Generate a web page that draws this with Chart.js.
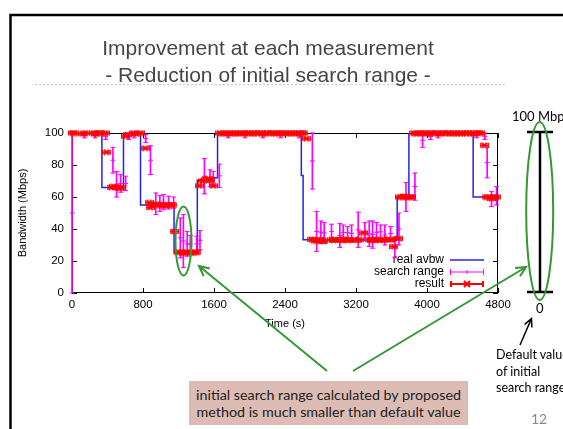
<!DOCTYPE html>
<html>
<head>
<meta charset="utf-8">
<script src="https://cdn.jsdelivr.net/npm/chart.js@4.4.1/dist/chart.umd.min.js"></script>
<style>
  html, body { margin: 0; padding: 0; background: #fff; }
  #slide { position: relative; width: 563px; height: 429px; overflow: hidden; }
  #slide canvas { position: absolute; left: 0; top: 0; }
  .txt { position: absolute; white-space: nowrap; }
  #title { left: 0; top: 34px; width: 536px; text-align: center; font: 21px/27px 'Liberation Sans', Arial, sans-serif; color: #454545; }
  #note { left: 189px; top: 381px; width: 279px; height: 44px; background: #dcbcb4; text-align: center;
          font: 14.3px/17px Lato, sans-serif; color: #222; box-sizing: border-box; padding-top: 4.5px; }
  #deflt { left: 496px; top: 347px; font: 12.5px/16.5px Lato, sans-serif; color: #000; }
  #mbps { left: 512px; top: 108px; font: 13px/16px Lato, sans-serif; color: #000; }
  #zero { left: 536px; top: 300px; font: 13px/16px Lato, sans-serif; color: #000; }
  #page { left: 531px; top: 411px; font: 14px/16px Lato, sans-serif; color: #888; }
</style>
</head>
<body>
<div id="slide">
  <canvas id="myChart" width="563" height="429"></canvas>
  <div class="txt" id="title">Improvement at each measurement<br>- Reduction of initial search range -</div>
  <div class="txt" id="mbps">100 Mbps</div>
  <div class="txt" id="zero">0</div>
  <div class="txt" id="deflt">Default value<br>of initial<br>search range</div>
  <div class="txt" id="note">initial search range calculated by proposed<br>method is much smaller than default value</div>
  <div class="txt" id="page">12</div>
</div>
<script>
// real available bandwidth (step line), value changes at each time
const avbwTime = [0, 337, 580, 772, 1150, 1412, 1555, 1640, 2584, 2604, 3664, 3796, 4520, 4800];
const avbwMbps = [100, 66, 100, 55, 25, 70.5, 72, 100, 73.5, 33.3, 60, 100, 60, 60];

// search range (vertical error bars)
const rangeTime = [0, 140, 260, 380, 461, 502, 548, 604, 638, 700, 830, 884,
  944, 990, 1031, 1088, 1145, 1220, 1255, 1298, 1333, 1405, 1442, 1492, 1555, 1592, 1660,
  1760, 1950, 2150, 2350, 2560, 2708, 2756, 2804, 2842, 2924, 3018, 3056, 3105, 3150,
  3225, 3300, 3349, 3387, 3431, 3476, 3525, 3589, 3638, 3684, 3763, 3864, 3950, 4040,
  4125, 4558, 4652, 4678, 4727, 4783];
const rangeLow = [0, 97, 97, 96, 75, 60, 63, 64, 96, 97, 94, 74,
  49, 51, 52, 52.5, 53, 22, 16, 23, 25, 26, 27, 62, 66.5, 67, 66,
  97, 97, 97, 97, 97, 65, 26, 31, 31, 34, 28.5, 33, 34, 32,
  28.5, 33, 29, 28, 32, 34, 30, 33, 22, 30, 51, 58, 91, 96,
  97, 97, 96, 72, 54, 55];
const rangeHigh = [100, 100, 100, 100, 91, 76, 74, 73, 100, 100, 99, 92,
  62.5, 61, 61.5, 60.5, 60, 47, 49, 38.5, 36, 35.5, 39, 84, 77, 76, 80.5,
  100, 100, 100, 100, 100, 100, 51, 45, 44, 43, 43.5, 42.5, 41.5, 42.5,
  50.5, 44, 45, 45, 44, 42.5, 42.5, 41.5, 35, 50, 69, 75, 100, 100,
  100, 100, 100, 91, 63.5, 66.5];

// measured result (red points)
const resultTime = [10, 30, 115, 150, 245, 270, 295, 320, 375, 390,
  440, 470, 500, 530, 560, 605, 627, 690, 730, 767, 824,
  869, 880, 915, 955, 993, 1031, 1069, 1107, 1137, 1150,
  1200, 1230, 1260, 1290, 1320, 1350, 1380, 1408,
  1435, 1470, 1500, 1537, 1562, 1592,
  1660, 1693, 1726, 1760, 1792, 1826, 1858, 1892, 1925, 1958, 1990, 2024, 2057, 2090,
  2122, 2156, 2190, 2222, 2255, 2288, 2322, 2354, 2388, 2420, 2454, 2486, 2520, 2552, 2586, 2612,
  2640, 2696, 2724, 2748, 2773, 2786, 2808, 2839, 2924, 2947, 2962, 3018, 3042, 3066, 3091, 3111,
  3186, 3211, 3242, 3280, 3355, 3380, 3404, 3429, 3468, 3499, 3523, 3570, 3600, 3627, 3675,
  3695, 3722, 3750, 3778, 3805, 3826,
  3845, 3878, 3912, 3945, 3978, 4012, 4045, 4078, 4112, 4145, 4178, 4212, 4245, 4278,
  4312, 4345, 4378, 4412, 4445, 4478, 4512, 4545, 4578, 4600,
  4644, 4665, 4695, 4725, 4755, 4785];
const resultMbps = [100, 100, 99.5, 100, 100, 99.5, 100, 100, 100, 88,
  66, 66.5, 66, 65.5, 66, 98, 99, 100, 99.5, 100, 90.5,
  56.5, 53.5, 55, 55.5, 55, 54.5, 55, 55, 55, 38.5,
  25.5, 25.5, 25, 25.5, 25.5, 25, 25.5, 25.5,
  67, 70, 71, 71.5, 70.5, 67,
  100, 99.5, 100, 100, 99.5, 100, 100, 99.5, 100, 100, 100, 99.5, 100, 100,
  100, 99.5, 100, 100, 100, 99.5, 100, 100, 100, 99.5, 100, 100, 99.5, 100, 100, 100,
  96.5, 33.5, 33.3, 32.5, 33, 32.9, 33.3, 32.3, 33.3, 33, 33.3, 33.3, 33, 33.3, 33.3, 33,
  33.3, 33, 33.3, 37.5, 33.3, 33, 33.3, 33.3, 33, 33.3, 33.3, 33.3, 33.3, 29, 34,
  60, 60, 60.5, 60, 60, 60,
  100, 99.5, 100, 100, 100, 99.5, 100, 100, 100, 99.5, 100, 100, 100, 99.5,
  100, 100, 99.5, 100, 100, 100, 99.5, 100, 100, 100,
  92.3, 60, 60, 59, 60, 60];

const xTicks = [0, 800, 1600, 2400, 3200, 4000, 4800];
const yTicks = [0, 20, 40, 60, 80, 100];

const BLUE = '#2323ee';
const MAGENTA = '#ff00ff';
const RED = '#ff0000';
const GREEN = '#349834';
const FONT = "'Liberation Sans', Arial, sans-serif";

// small canvases used as point styles / legend samples
function makeIcon(w, h, paint) {
  const c = document.createElement('canvas');
  c.width = w; c.height = h;
  paint(c.getContext('2d'));
  return c;
}
function seg(g, x1, y1, x2, y2) { g.beginPath(); g.moveTo(x1, y1); g.lineTo(x2, y2); g.stroke(); }

const resultMark = makeIcon(9, 7, g => {
  g.strokeStyle = RED;
  g.lineWidth = 1.3;
  seg(g, 0.5, 3.5, 8.5, 3.5);
  seg(g, 0.7, 1, 0.7, 6);
  seg(g, 8.3, 1, 8.3, 6);
  g.lineWidth = 1.8;
  seg(g, 2, 1, 7, 6);
  seg(g, 2, 6, 7, 1);
});
const plusMark = makeIcon(7, 7, g => {
  g.strokeStyle = MAGENTA; g.lineWidth = 1;
  seg(g, 1, 3.5, 6, 3.5);
  seg(g, 3.5, 1, 3.5, 6);
});
const avbwIcon = makeIcon(34, 4, g => {
  g.strokeStyle = BLUE; g.lineWidth = 1.5;
  seg(g, 0, 2, 34, 2);
});
const rangeIcon = makeIcon(34, 8, g => {
  g.strokeStyle = MAGENTA; g.lineWidth = 1;
  seg(g, 0, 4, 34, 4);
  seg(g, 0.5, 1, 0.5, 7);
  seg(g, 33.5, 1, 33.5, 7);
  seg(g, 17, 2, 17, 6);
});
const resultIcon = makeIcon(34, 8, g => {
  g.strokeStyle = RED; g.lineWidth = 2;
  seg(g, 0, 4, 34, 4);
  seg(g, 1, 1, 1, 7);
  seg(g, 33, 1, 33, 7);
  seg(g, 14, 1, 20, 7);
  seg(g, 14, 7, 20, 1);
});

const toPoints = (xs, ys) => xs.map((x, i) => ({ x: x, y: ys[i] }));
const rangeMid = rangeLow.map((lo, i) => (lo + rangeHigh[i]) / 2);

// slide decoration, plot frame with inner gnuplot-like ticks
const decor = {
  id: 'decor',
  afterLayout(chart) {
    const lg = chart.legend;
    if (!lg) return;
    const ca = chart.chartArea;
    lg.left = ca.left; lg.top = ca.top;
    lg.right = 484; lg.width = 484 - ca.left;
    lg.bottom = 290; lg.height = 290 - ca.top;
  },
  beforeDraw(chart) {
    const ctx = chart.ctx;
    ctx.save();
    ctx.strokeStyle = '#000';
    ctx.lineWidth = 2.5;
    ctx.beginPath();
    ctx.moveTo(10.5, 429); ctx.lineTo(10.5, 15); ctx.lineTo(563, 15);
    ctx.stroke();
    ctx.strokeStyle = '#b6cde0';
    ctx.lineWidth = 1;
    ctx.setLineDash([2, 2]);
    ctx.beginPath(); ctx.moveTo(35, 84.5); ctx.lineTo(505, 84.5); ctx.stroke();
    ctx.restore();
  },
  beforeDatasetsDraw(chart) {
    const { ctx, chartArea: a, scales } = chart;
    ctx.save();
    ctx.strokeStyle = '#000';
    ctx.lineWidth = 1;
    ctx.strokeRect(a.left + 0.5, a.top + 0.5, a.right - a.left - 1, a.bottom - a.top - 1);
    ctx.beginPath();
    scales.x.ticks.forEach(t => {
      const px = Math.round(scales.x.getPixelForValue(t.value)) + 0.5;
      ctx.moveTo(px, a.bottom); ctx.lineTo(px, a.bottom - 5);
      ctx.moveTo(px, a.top); ctx.lineTo(px, a.top + 5);
    });
    scales.y.ticks.forEach(t => {
      const py = Math.round(scales.y.getPixelForValue(t.value)) + 0.5;
      ctx.moveTo(a.left, py); ctx.lineTo(a.left + 5, py);
      ctx.moveTo(a.right, py); ctx.lineTo(a.right - 5, py);
    });
    ctx.stroke();
    ctx.restore();
  },
  afterDraw(chart) {
    const ctx = chart.ctx;
    const arrow = (x1, y1, x2, y2, color, w, head) => {
      const ang = Math.atan2(y2 - y1, x2 - x1);
      ctx.strokeStyle = color; ctx.lineWidth = w;
      ctx.beginPath();
      ctx.moveTo(x1, y1); ctx.lineTo(x2, y2);
      ctx.moveTo(x2 - head * Math.cos(ang - 0.45), y2 - head * Math.sin(ang - 0.45));
      ctx.lineTo(x2, y2);
      ctx.lineTo(x2 - head * Math.cos(ang + 0.45), y2 - head * Math.sin(ang + 0.45));
      ctx.stroke();
    };
    ctx.save();
    // default search range bar
    ctx.strokeStyle = '#000';
    ctx.lineWidth = 2.5;
    ctx.beginPath();
    ctx.moveTo(540, 132); ctx.lineTo(540, 292);
    ctx.moveTo(527, 132); ctx.lineTo(553, 132);
    ctx.moveTo(527, 292); ctx.lineTo(553, 292);
    ctx.stroke();
    // green ellipses
    ctx.strokeStyle = GREEN;
    ctx.lineWidth = 2;
    ctx.beginPath(); ctx.ellipse(183.5, 241, 8, 34.5, 0, 0, Math.PI * 2); ctx.stroke();
    ctx.beginPath(); ctx.ellipse(539.7, 211, 13.5, 89, 0, 0, Math.PI * 2); ctx.stroke();
    // arrows
    arrow(327, 371, 199, 266, GREEN, 2, 11);
    arrow(353, 371, 526, 267, GREEN, 2, 11);
    arrow(520, 345, 531.5, 318.5, '#000', 1.5, 9);
    ctx.restore();
  }
};

const ctx = document.getElementById('myChart').getContext('2d');
Chart.defaults.font.family = FONT;
Chart.defaults.font.size = 11.5;
Chart.defaults.color = '#000';

const myChart = new Chart(ctx, {
  type: 'scatter',
  data: {
    datasets: [
      {
        label: 'result',
        data: toPoints(resultTime, resultMbps),
        pointStyle: resultMark,
        pointRadius: 4,
        clip: false,
      },
      {
        label: 'search range mid',
        data: toPoints(rangeTime, rangeMid),
        pointStyle: plusMark,
        pointRadius: 3,
        clip: false,
      },
      {
        label: 'search range low',
        data: toPoints(rangeTime, rangeLow),
        pointStyle: 'line',
        pointRadius: 2.5,
        borderColor: MAGENTA,
        borderWidth: 1,
        clip: false,
      },
      {
        label: 'search range high',
        data: toPoints(rangeTime, rangeHigh),
        pointStyle: 'line',
        pointRadius: 2.5,
        borderColor: MAGENTA,
        borderWidth: 1,
        clip: false,
      },
      {
        type: 'bar',
        label: 'search range',
        data: rangeTime.map((t, i) => ({ x: t, y: [rangeLow[i], rangeHigh[i]] })),
        backgroundColor: MAGENTA,
        borderWidth: 0,
        barThickness: 1,
        grouped: false,
        clip: false,
      },
      {
        type: 'line',
        label: 'real avbw',
        data: toPoints(avbwTime, avbwMbps),
        showLine: true,
        stepped: 'before',
        borderColor: BLUE,
        borderWidth: 1.5,
        pointRadius: 0,
        fill: false,
      },
    ],
  },
  options: {
    responsive: false,
    animation: false,
    events: [],
    layout: { padding: { left: 14, top: 133, right: 65, bottom: 96 } },
    plugins: {
      tooltip: { enabled: false },
      legend: {
        display: true,
        position: 'chartArea',
        align: 'end',
        rtl: true,
        textDirection: 'ltr',
        labels: {
          usePointStyle: true,
          pointStyleWidth: 34,
          boxHeight: 8,
          padding: 0,
          color: '#000',
          font: { size: 12 },
          generateLabels: () => [
            { text: 'real avbw', pointStyle: avbwIcon, datasetIndex: 5, lineWidth: 0, hidden: false },
            { text: 'search range', pointStyle: rangeIcon, datasetIndex: 4, lineWidth: 0, hidden: false },
            { text: 'result', pointStyle: resultIcon, datasetIndex: 0, lineWidth: 0, hidden: false },
          ],
        },
      },
    },
    scales: {
      x: {
        type: 'linear',
        min: 0,
        max: 4800,
        offset: false,
        afterFit: s => { s.height = 40; },
        afterBuildTicks: s => { s.ticks = xTicks.map(v => ({ value: v })); },
        grid: { display: false, drawTicks: false },
        border: { display: false },
        ticks: { padding: 5, maxRotation: 0, autoSkip: false, callback: v => String(v) },
        title: { display: true, text: 'Time (s)', font: { size: 11 }, padding: { top: 0, bottom: 2.5 } },
      },
      y: {
        min: 0,
        max: 100,
        afterFit: s => { s.width = 58; },
        afterBuildTicks: s => { s.ticks = yTicks.map(v => ({ value: v })); },
        grid: { display: false, drawTicks: false },
        border: { display: false },
        ticks: { padding: 8, callback: v => String(v) },
        title: { display: true, text: 'Bandwidth (Mbps)', font: { size: 11 }, padding: { top: 2.5, bottom: 0 } },
      },
    },
  },
  plugins: [decor],
});
</script>
</body>
</html>
